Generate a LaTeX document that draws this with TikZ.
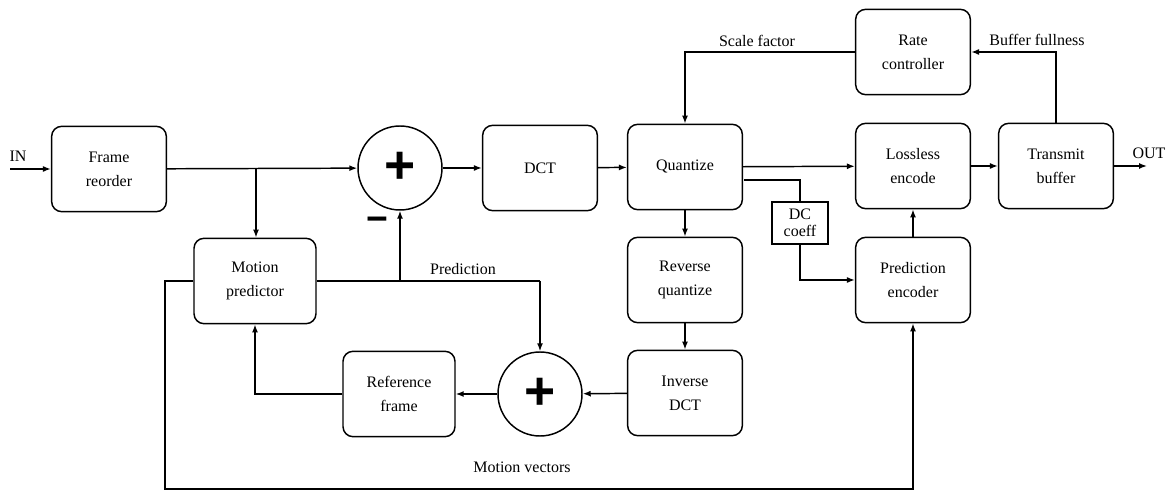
\documentclass[tikz,border=0pt]{standalone}
\usepackage{fontspec}
\setmainfont{Liberation Serif}
\newfontfamily\symfont{Liberation Sans}
\usetikzlibrary{arrows.meta}

\tikzset{every picture/.style={line width=1.1pt}}
\tikzset{
  blk/.style={draw, rounded corners=7.5pt, minimum width=86pt, minimum height=64pt, align=center, inner sep=0.75pt, font=\fontsize{12}{18}\selectfont},
  sumnode/.style={draw, circle, minimum size=63pt, inner sep=0pt, font=\symfont\bfseries\fontsize{40}{40}\selectfont},
  coeffbox/.style={draw, minimum width=42pt, minimum height=31.5pt, align=center, inner sep=0.75pt, font=\fontsize{12}{13}\selectfont},
  lbl/.style={inner sep=0.75pt, font=\fontsize{12}{14}\selectfont},
  arr/.style={-{Latex[length=6pt,width=4.5pt]}}
}

\begin{document}
\begin{tikzpicture}[x=0.75pt,y=0.75pt,yscale=-1,xscale=1]
\path[use as bounding box] (0,0) rectangle (1174,498);

%Shape: Blocks
\node[blk] (reorder) at (109,169) {Frame\\reorder};
\node[blk, minimum width=91.5pt] (motion) at (255,281) {Motion\\predictor};
\node[sumnode] (sum1) at (400,168) {+};
\node[blk] (dct) at (540,168) {DCT};
\node[blk] (quant) at (685,167) {Quantize};
\node[blk] (rate) at (913,52) {Rate\\controller};
\node[blk] (lossless) at (913,166) {Lossless\\encode};
\node[blk] (transmit) at (1056,166) {Transmit\\buffer};
\node[blk] (revq) at (685,280) {Reverse\\quantize};
\node[blk] (invdct) at (685,393) {Inverse\\DCT};
\node[sumnode] (sum2) at (540,394) {+};
\node[blk, minimum width=84pt] (ref) at (399,394) {Reference\\frame};
\node[blk] (predenc) at (913,280) {Prediction\\encoder};
\node[coeffbox] (dc) at (800,223) {DC\\coeff};

%Coordinates for free ends and corners
\coordinate (in) at (10,169);
\coordinate (out) at (1147,166);
\coordinate (br) at (256,169);
\coordinate (pj) at (400,281);
\coordinate (pc) at (540,281);
\coordinate (qdc) at (744,180);
\coordinate (mvl) at (165,489);

%Straight Lines: forward path
\draw[arr] (in) -- (reorder);
\draw[arr] (reorder) -- (sum1);
\draw[arr] (sum1) -- (dct);
\draw[arr] (dct) -- (quant);
\draw[arr] (quant) -- (lossless);
\draw[arr] (lossless) -- (transmit);
\draw[arr] (transmit) -- (out);

%Straight Lines: rate control loop
\draw[arr] (rate.west) -| (quant.north);
\draw[arr] (transmit.north) |- (rate.east);

%Straight Lines: DC coefficient path
\draw (qdc) -| (dc.north);
\draw[arr] (dc.south) |- (predenc.west);
\draw[arr] (predenc) -- (lossless);

%Straight Lines: reconstruction loop
\draw[arr] (quant) -- (revq);
\draw[arr] (revq) -- (invdct);
\draw[arr] (invdct) -- (sum2);
\draw[arr] (sum2) -- (ref);
\draw[arr] (ref.west) -| (motion.south);

%Straight Lines: prediction
\draw[arr] (br) -- (br |- motion.north);
\draw (motion.east) -- (pc);
\draw[arr] (pj) -- (sum1);
\draw[arr] (pc) -- (sum2);

%Straight Lines: motion vectors
\draw[arr] (motion.west) -| (mvl) -| (predenc.south);

% Text Node
\node[lbl, font=\symfont\bfseries\fontsize{28}{28}\selectfont] (minus) at (377,224) {−};
% Text Node
\node[lbl] (inlbl) at (18,156) {IN};
% Text Node
\node[lbl] (outlbl) at (1149,153) {OUT};
% Text Node
\node[lbl] (predlbl) at (463,269) {Prediction};
% Text Node
\node[lbl] (scalelbl) at (757,41) {Scale factor};
% Text Node
\node[lbl] (buflbl) at (1037,40) {Buffer fullness};
% Text Node
\node[lbl] (mvlbl) at (522,467) {Motion vectors};

\end{tikzpicture}
\end{document}
